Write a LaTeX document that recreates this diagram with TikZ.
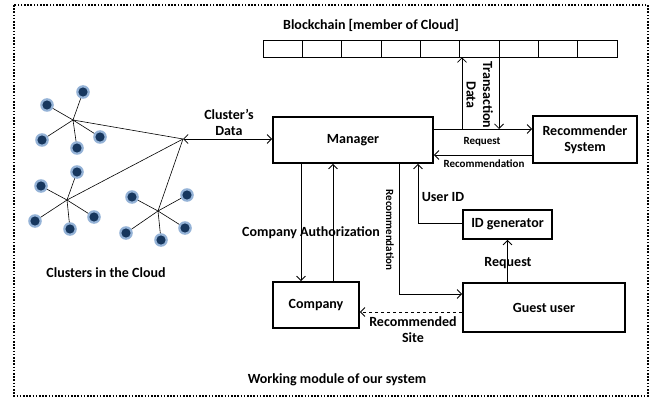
\documentclass[tikz,border=0pt]{standalone}
\usepackage{fontspec}
\setmainfont{Carlito}
\usetikzlibrary{arrows.meta}
\begin{document}
\begin{tikzpicture}[x=1pt,y=-1pt,
  box/.style={draw,line width=1.8pt,inner sep=0pt,font=\bfseries\fontsize{14}{16}\selectfont,align=center},
  cell/.style={draw,line width=0.6pt,minimum width=39.33pt,minimum height=17pt,inner sep=0pt},
  arr/.style={line width=0.8pt,-{Straight Barb[length=4.5pt,width=9pt,line width=0.8pt]}},
  arrr/.style={line width=0.8pt,{Straight Barb[length=4.5pt,width=9pt,line width=0.8pt]}-{Straight Barb[length=4.5pt,width=9pt,line width=0.8pt]}},
  lbl/.style={font=\bfseries\fontsize{14}{16}\selectfont,inner sep=0pt,align=center},
  slbl/.style={font=\bfseries\fontsize{11}{12}\selectfont,inner sep=0pt,align=center},
  cl/.style={line width=0.6pt},
]
\useasboundingbox (0,0) rectangle (661,401);
\definecolor{lightb}{HTML}{95B3D7}
\definecolor{darkb}{HTML}{17375E}
% dotted border
\draw[line width=1.8pt,dash pattern=on 1.6pt off 1.6pt] (14,5) rectangle (648,396);

% blockchain
\node[lbl] (bctitle) at (371,25) {Blockchain [member of Cloud]};
\foreach \i in {1,...,9}{
  \node[cell] (c\i) at ({263+39.33*(\i-0.5)},48.5) {};
}

% boxes
\node[box,minimum width=160pt,minimum height=46pt] (Manager) at (353,140) {Manager};
\node[box,minimum width=104pt,minimum height=47pt] (Rec) at (585,139.5) {Recommender\\System};
\node[box,minimum width=86pt,minimum height=46pt] (Company) at (316,305) {Company};
\node[box,minimum width=162pt,minimum height=49pt] (Guest) at (544,307.5) {Guest user};
\node[box,minimum width=89pt,minimum height=29pt] (IDgen) at (507.5,224.5) {ID generator};

% manager <-> recommender
\draw[arr] ([yshift=11pt]Manager.east) -- ([yshift=11pt]Manager.east -| Rec.west);
\draw[arr] ([yshift=-15.5pt]Rec.west) -- ([yshift=-15.5pt]Rec.west -| Manager.east);
\node[slbl] (lreq) at (482,142) {Request};
\node[slbl] (lrec) at (484,164) {Recommendation};

% blockchain arrows
\coordinate (d0) at (462,129);
\coordinate (t0) at (499,129);
\draw[arr] (d0) -- (d0 |- c6.south);
\draw[arr] (t0 |- c7.south) -- (t0);
\node[lbl,rotate=-90] (ldata) at (471,95) {Data};
\node[lbl,rotate=-90] (ltrans) at (488,95) {Transaction};

% clusters
\coordinate (hub) at (183,139);
\coordinate (h1) at (73,120);
\coordinate (h2) at (67,200);
\coordinate (h3) at (158,211);
\draw[cl] (hub) -- (h1);
\draw[cl] (hub) -- (h2);
\draw[cl] (hub) -- (h3);
\foreach \h/\pts in {h1/{(83,92),(47,105),(42,140),(77,148),(100,137)},
                     h2/{(77,172),(41,186),(35,221),(70,229),(94,217)},
                     h3/{(132,197),(187,195),(126,233),(161,240),(185,228)}}{
  \foreach \p in \pts {
    \draw[cl] (\h) -- \p;
    \fill[lightb] \p circle (6.8pt);
    \fill[darkb] \p circle (4.6pt);
  }
}
\node[lbl] (lclusters) at (106,273) {Clusters in the Cloud};
\draw[arrr] (hub) -- (hub -| Manager.west);
\node[lbl] (lcd) at (229,122) {Cluster’s\\Data};

% company arrows
\draw[arr] ([xshift=-15pt]Company.north |- Manager.south) -- ([xshift=-15pt]Company.north);
\draw[arr] ([xshift=17pt]Company.north) -- ([xshift=17pt]Company.north |- Manager.south);
\node[lbl] (lca) at (311,233) {Company Authorization};

% recommendation to guest
\draw[arr] ([xshift=46pt]Manager.south) |- ([yshift=13.5pt]Guest.west);
\node[slbl,rotate=-90] (lrec2) at (390,230) {Recommendation};

% user id
\draw[arr] ([yshift=1.5pt]IDgen.west) -| ([xshift=65pt]Manager.south);
\node[lbl] (luid) at (443,197) {User ID};

% request guest -> id
\draw[arr] (IDgen.south |- Guest.north) -- (IDgen.south);
\node[lbl] (lreq2) at (508,263) {Request};

% dashed recommended site
\draw[arr,dashed] ([yshift=-4.5pt]Guest.west) -- ([yshift=-4.5pt]Guest.west -| Company.east);
\node[lbl] (lsite) at (413,330) {Recommended\\Site};

\node[lbl] (lwork) at (337,380) {Working module of our system};
\end{tikzpicture}
\end{document}
